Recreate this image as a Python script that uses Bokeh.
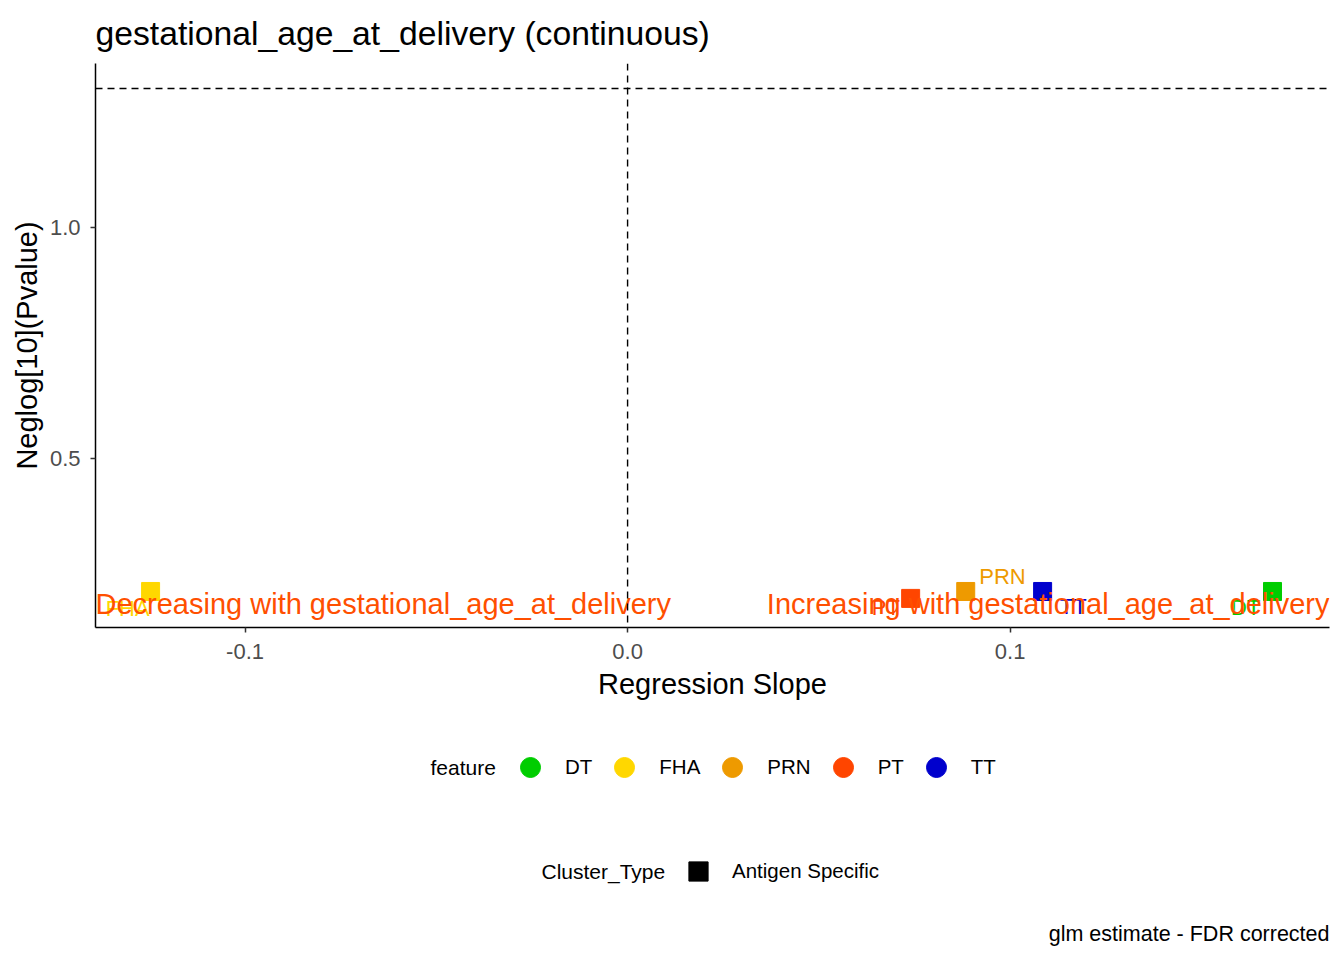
from bokeh.plotting import figure
from bokeh.layouts import column
from bokeh.models import (Range1d, Span, Legend, LegendItem, Label, FixedTicker,
                          ColumnDataSource)
from bokeh.core.properties import value
from bokeh.embed import file_html
from bokeh.resources import INLINE

# ---- data ----
features = ["DT", "FHA", "PRN", "PT", "TT"]
feature_colors = ["#00CD00", "#FFD700", "#EE9A00", "#FF4500", "#0000CD"]
slope = [0.1686, -0.1247, 0.0884, 0.0740, 0.1085]
neglog_p = [0.212, 0.212, 0.212, 0.197, 0.212]
label_x = [0.1616, -0.1307, 0.0980, 0.0675, 0.1165]
label_y = [0.177, 0.175, 0.2446, 0.177, 0.1797]
cluster_types = ["Antigen Specific"]
x_ticks = [-0.1, 0.0, 0.1]
x_tick_labels = ["-0.1", "0.0", "0.1"]
y_ticks = [0.5, 1.0]
y_tick_labels = ["0.5", "1.0"]
x_lim = (-0.1391, 0.1835)
y_lim = (0.134, 1.355)
sig_threshold = 1.301
annot_y = 0.184
annot_texts = ["Decreasing with gestational_age_at_delivery",
               "Increasing with gestational_age_at_delivery"]
annot_color = "#FF4F00"
title_text = "gestational_age_at_delivery (continuous)"
caption_text = "glm estimate - FDR corrected"

FONT = "Liberation Sans"
NAN = float("nan")
W = 1330

p = figure(width=W, height=720, output_backend="svg", toolbar_location=None,
           x_range=Range1d(*x_lim), y_range=Range1d(*y_lim),
           min_border_left=95, min_border_right=1, min_border_top=63,
           min_border_bottom=93)
p.title.text = title_text
p.title.text_font = FONT
p.title.text_font_size = "33.7px"
p.title.text_font_style = "normal"
p.title.text_color = "black"
p.title.offset = 0
p.title.standoff = 20
p.title.vertical_align = "top"

p.outline_line_color = None
p.xgrid.visible = False
p.ygrid.visible = False

for ax in (p.xaxis[0], p.yaxis[0]):
    ax.axis_line_color = "black"
    ax.axis_line_width = 1.5
    ax.major_tick_line_color = "#333333"
    ax.major_tick_line_width = 1.5
    ax.major_tick_out = 5
    ax.major_tick_in = 0
    ax.minor_tick_line_color = None
    ax.major_label_text_font = FONT
    ax.major_label_text_font_size = "22px"
    ax.major_label_text_color = "#4D4D4D"
    ax.axis_label_text_font = FONT
    ax.axis_label_text_font_size = "29px"
    ax.axis_label_text_font_style = "normal"
    ax.axis_label_text_color = "black"

p.xaxis.ticker = FixedTicker(ticks=x_ticks)
p.xaxis.major_label_overrides = dict(zip(x_ticks, x_tick_labels))
p.yaxis.ticker = FixedTicker(ticks=y_ticks)
p.yaxis.major_label_overrides = dict(zip(y_ticks, y_tick_labels))
p.xaxis.axis_label = "Regression Slope"
p.yaxis.axis_label = "Neglog[10](Pvalue)"
p.xaxis.major_label_standoff = 11
p.xaxis.axis_label_standoff = 6
p.yaxis.major_label_standoff = 10
p.yaxis.axis_label_standoff = 4

# reference lines
p.add_layout(Span(location=0, dimension="height", line_color="black",
                  line_width=1.4, line_dash="7 5"))
p.add_layout(Span(location=sig_threshold, dimension="width", line_color="black",
                  line_width=1.4, line_dash="7 5"))

src = ColumnDataSource(dict(feature=features, color=feature_colors, x=slope,
                            y=neglog_p, lx=label_x, ly=label_y))

# points
p.scatter("x", "y", source=src, marker="square", size=18,
          fill_color="color", line_color="color")

# repelled labels
p.text("lx", "ly", text="feature", source=src, text_color="color",
       text_font=value(FONT), text_font_size="22px",
       text_align="center", text_baseline="middle")

# annotations
p.text(x=[x_lim[0]], y=[annot_y], text=[annot_texts[0]], text_color=annot_color,
       text_font=value(FONT), text_font_size="29px",
       text_align="left", text_baseline="middle")
p.text(x=[x_lim[1]], y=[annot_y], text=[annot_texts[1]], text_color=annot_color,
       text_font=value(FONT), text_font_size="29px",
       text_align="right", text_baseline="middle")

# ---- legend / caption area (second figure, no axes; frame aligned with p) ----
q = figure(width=W, height=232, output_backend="svg", toolbar_location=None,
           x_range=Range1d(0, 1), y_range=Range1d(0, 1),
           x_axis_type=None, y_axis_type=None,
           min_border_left=95, min_border_right=1, min_border_top=0,
           min_border_bottom=0)
q.outline_line_color = None
q.xgrid.visible = False
q.ygrid.visible = False

feat_items = []
for f, c in zip(features, feature_colors):
    r = q.scatter(x=[NAN], y=[NAN], marker="circle", size=20, fill_color=c, line_color=c)
    feat_items.append(LegendItem(label=f, renderers=[r]))
leg1 = Legend(items=feat_items, orientation="horizontal", location=(410, 160),
              glyph_width=50, glyph_height=50, label_standoff=10, spacing=7,
              padding=0, margin=0,
              label_text_font=FONT, label_text_font_size="20.5px",
              label_text_color="black",
              border_line_color=None, background_fill_color=None)
q.add_layout(leg1)

ct_items = []
for ct in cluster_types:
    r = q.scatter(x=[NAN], y=[NAN], marker="square", size=19, fill_color="black",
                  line_color="black")
    ct_items.append(LegendItem(label=ct, renderers=[r]))
leg2 = Legend(items=ct_items, orientation="horizontal", location=(579, 57),
              glyph_width=48, glyph_height=48, label_standoff=10, spacing=7,
              padding=0, margin=0,
              label_text_font=FONT, label_text_font_size="20.5px",
              label_text_color="black",
              border_line_color=None, background_fill_color=None)
q.add_layout(leg2)

def scr_label(text, x, y, align, size="21px"):
    return Label(x=x, y=y, x_units="screen", y_units="screen", text=text,
                 text_font=FONT, text_font_size=size, text_color="black",
                 text_align=align, text_baseline="middle")

q.add_layout(scr_label("feature", 335, 185, "left"))
q.add_layout(scr_label("Cluster_Type", 446, 81, "left"))
q.add_layout(scr_label(caption_text, 1234, 19, "right", "21.5px"))

layout = column(p, q, spacing=0)
open("out.html", "w").write(file_html(layout, INLINE))
